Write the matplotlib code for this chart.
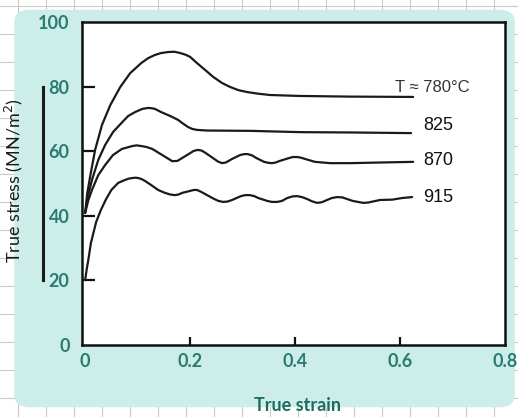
import matplotlib.pyplot as plt
from matplotlib.patches import FancyBboxPatch
from matplotlib.lines import Line2D

# strain / stress curves
strain_780 = [0, 0.004, 0.010, 0.019, 0.032, 0.048, 0.067, 0.086, 0.107, 0.120, 0.133, 0.145,
              0.158, 0.170, 0.181, 0.191, 0.200, 0.213, 0.229, 0.244, 0.261, 0.276, 0.292,
              0.309, 0.330, 0.352, 0.410, 0.505, 0.625]
stress_780 = [40.9, 47.0, 52.6, 60.4, 68.1, 74.3, 79.9, 84.2, 87.3, 88.8, 89.8, 90.4,
              90.7, 90.8, 90.4, 89.9, 89.2, 87.3, 85.1, 83.0, 81.1, 79.9, 78.9,
              78.3, 77.8, 77.4, 77.1, 76.9, 76.8]

strain_825 = [0, 0.006, 0.013, 0.025, 0.038, 0.053, 0.069, 0.082, 0.095, 0.109, 0.120, 0.127,
              0.133, 0.145, 0.162, 0.177, 0.186, 0.196, 0.204, 0.213, 0.222, 0.232, 0.314,
              0.410, 0.505, 0.621]
stress_825 = [40.9, 46.5, 51.1, 57.3, 61.9, 65.9, 68.7, 70.9, 72.1, 73.1, 73.4, 73.3,
              73.1, 72.1, 70.9, 69.7, 68.6, 67.5, 66.9, 66.6, 66.5, 66.4, 66.3,
              65.9, 65.8, 65.6]

strain_870 = [0, 0.006, 0.013, 0.025, 0.038, 0.053, 0.070, 0.090, 0.098, 0.107,
              0.117, 0.128, 0.147, 0.166, 0.176, 0.185, 0.200, 0.207, 0.215, 0.222,
              0.230, 0.246, 0.253, 0.261, 0.268, 0.280, 0.295, 0.303, 0.310, 0.318,
              0.326, 0.341, 0.349, 0.356, 0.363, 0.371, 0.389, 0.396, 0.404, 0.411,
              0.419, 0.438, 0.467, 0.505, 0.562, 0.625]
stress_870 = [40.9, 44.8, 48.0, 52.6, 55.7, 58.8, 60.7, 61.6, 61.8, 61.6,
              61.3, 60.7, 58.8, 56.9, 57.0, 57.9, 59.4, 60.1, 60.4, 60.2,
              59.4, 57.6, 56.8, 56.3, 56.5, 57.6, 58.8, 59.1, 59.1, 58.7,
              57.9, 56.7, 56.4, 56.3, 56.5, 57.0, 57.9, 58.2, 58.2, 58.0,
              57.6, 56.7, 56.3, 56.3, 56.5, 56.7]

strain_915 = [0, 0.003, 0.006, 0.011, 0.021, 0.030, 0.040, 0.050, 0.063, 0.076,
              0.083, 0.090, 0.096, 0.101, 0.107, 0.114, 0.126, 0.139, 0.152, 0.162,
              0.171, 0.178, 0.185, 0.200, 0.207, 0.213, 0.220, 0.229, 0.246, 0.254,
              0.263, 0.271, 0.280, 0.297, 0.305, 0.314, 0.322, 0.330, 0.347, 0.356,
              0.366, 0.375, 0.385, 0.395, 0.404, 0.413, 0.423, 0.432, 0.442, 0.451,
              0.461, 0.470, 0.480, 0.490, 0.499, 0.510, 0.520, 0.530, 0.539, 0.562,
              0.585, 0.604, 0.623]
stress_915 = [20.1, 23.5, 26.3, 31.6, 38.1, 41.8, 45.2, 48.0, 50.2, 51.1,
              51.5, 51.7, 51.8, 51.7, 51.4, 50.8, 49.5, 48.0, 47.1, 46.6,
              46.4, 46.6, 47.1, 47.7, 48.0, 48.0, 47.5, 46.7, 45.2, 44.6,
              44.3, 44.4, 44.9, 46.1, 46.4, 46.4, 46.1, 45.5, 44.6, 44.3,
              44.3, 44.6, 45.5, 46.0, 46.1, 45.8, 45.2, 44.5, 44.0, 44.2,
              44.9, 45.5, 45.8, 45.7, 45.2, 44.6, 44.3, 44.0, 44.1, 44.9,
              45.0, 45.5, 45.8]

curve_labels = ["T \u2248 780\u00b0C", "825", "870", "915"]
x_ticks = [0, 0.2, 0.4, 0.6, 0.8]
x_tick_labels = ["0", "0.2", "0.4", "0.6", "0.8"]
y_ticks = [0, 20, 40, 60, 80, 100]
y_tick_labels = ["0", "20", "40", "60", "80", "100"]

teal = "#2b7b72"
cyan = "#cdede8"

fig = plt.figure(figsize=(5.18, 4.17), dpi=100)
fig.patch.set_facecolor("white")

# graph paper behind the panel
W, H = 518, 417
for gx in range(18, W, 28):
    fig.add_artist(Line2D([gx / W, gx / W], [0, 1], color="#c9c9c9", lw=0.8, zorder=0))
for gy in range(6, H, 28):
    fig.add_artist(Line2D([0, 1], [1 - gy / H, 1 - gy / H], color="#c9c9c9", lw=0.8, zorder=0))

panel = FancyBboxPatch((22 / W, 16 / H), (507 - 22) / W, (401 - 16) / H,
                       boxstyle="round,pad=0.015,rounding_size=0.03",
                       transform=fig.transFigure, facecolor=cyan, edgecolor="none", zorder=1)
fig.add_artist(panel)

ax = fig.add_axes([82 / W, (H - 345) / H, (505 - 82) / W, (345 - 22) / H])
ax.set_zorder(2)
ax.set_facecolor("white")

for xs, ys in [(strain_780, stress_780), (strain_825, stress_825),
               (strain_870, stress_870), (strain_915, stress_915)]:
    ax.plot(xs, ys, color="#1a1a1a", lw=1.6, solid_capstyle="round", solid_joinstyle="round")

ax.text(0.59, 79.8, curve_labels[0], fontsize=12, color="#333333",
        family="Liberation Sans", va="center", ha="left")
ax.text(0.644, 68.1, curve_labels[1], fontsize=13, color="#111111",
        family="Liberation Sans", va="center", ha="left")
ax.text(0.644, 57.0, curve_labels[2], fontsize=13, color="#111111",
        family="Liberation Sans", va="center", ha="left")
ax.text(0.644, 45.8, curve_labels[3], fontsize=13, color="#111111",
        family="Liberation Sans", va="center", ha="left")

ax.set_xlim(-0.006, 0.8)
ax.set_ylim(0, 100)
ax.set_xticks(x_ticks)
ax.set_xticklabels(x_tick_labels)
ax.set_yticks(y_ticks)
ax.set_yticklabels(y_tick_labels)
ax.tick_params(axis="x", direction="in", length=6, width=1.6, pad=6, colors="#111111",
               labelcolor=teal, labelsize=13)
ax.tick_params(axis="y", direction="in", length=9, width=1.6, pad=9, colors="#111111",
               labelcolor=teal, labelsize=13)
for lab in ax.get_xticklabels() + ax.get_yticklabels():
    lab.set_family("Lato")
    lab.set_fontweight("bold")
for t in (ax.xaxis.get_major_ticks()[0], ax.xaxis.get_major_ticks()[-1],
          ax.yaxis.get_major_ticks()[0], ax.yaxis.get_major_ticks()[-1]):
    t.tick1line.set_visible(False)

for s in ax.spines.values():
    s.set_linewidth(1.8)
    s.set_color("#111111")

ax.set_xlabel("True strain", fontsize=13, color="#1f6b63", family="Lato", fontweight="bold")
ax.xaxis.set_label_coords(0.51, -0.161)
ax.set_ylabel("True stress (MN/m$^2$)", fontsize=13, color="#1a1a1a", family="Lato")
ax.yaxis.set_label_coords(-0.135, 0.51)

fig.add_artist(Line2D([43 / W, 43 / W], [(H - 280) / H, (H - 87) / H],
                      color="#1a1a1a", lw=2.2, zorder=3))

fig.savefig("out.png", dpi=100)
